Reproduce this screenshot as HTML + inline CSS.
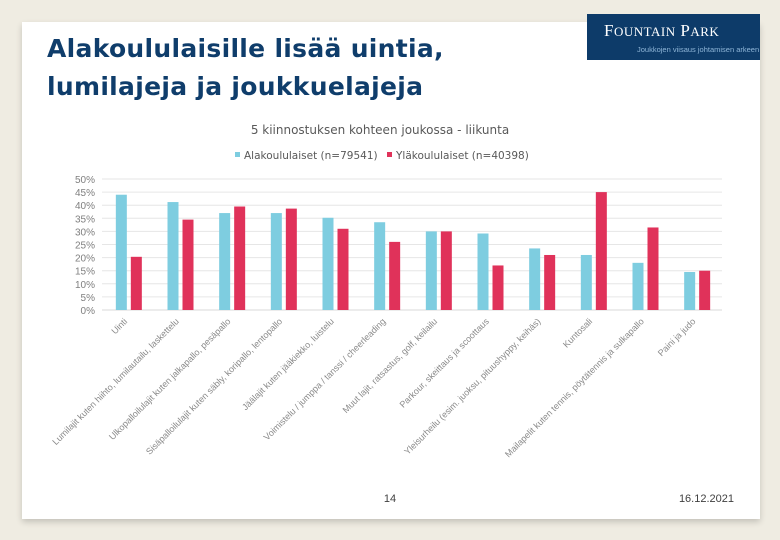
<!DOCTYPE html>
<html><head><meta charset="utf-8">
<style>
body{margin:0;width:780px;height:540px;background:#efece2;font-family:"Liberation Sans",sans-serif;overflow:hidden;position:relative}
#card{position:absolute;left:22px;top:22px;width:738px;height:497px;background:#fff;box-shadow:0 3px 6px rgba(0,0,0,0.18)}
#title{position:absolute;left:47px;top:30px;margin:0;color:#0f3d6b;font-family:"DejaVu Sans",sans-serif;font-weight:bold;font-size:25px;line-height:38px;letter-spacing:0.3px}
#logo{position:absolute;left:587px;top:14px;width:173px;height:46px;background:#0d3b69;color:#fff;white-space:nowrap}
#logo .n{position:absolute;left:17px;top:7px;font-family:"Liberation Serif",serif;font-size:17px;letter-spacing:0.5px}
#logo .s{position:absolute;left:50px;top:31px;font-size:7.5px;color:#8fb6d8}
svg{position:absolute;left:0;top:0}
</style></head><body>
<div id="card"></div>
<h1 id="title">Alakoululaisille lisää uintia,<br>lumilajeja ja joukkuelajeja</h1>
<div id="logo"><span class="n">F<span style="font-size:13px">OUNTAIN</span> P<span style="font-size:13px">ARK</span></span><span class="s">Joukkojen viisaus johtamisen arkeen</span></div>
<svg id="chart" width="780" height="540"></svg>
<script>
const categories=["Uinti","Lumilajit kuten hiihto, lumilautailu, laskettelu","Ulkopalloilulajit kuten jalkapallo, pesäpallo","Sisäpalloilulajit kuten säbly, koripallo, lentopallo","Jäälajit kuten jääkiekko, luistelu","Voimistelu / jumppa / tanssi / cheerleading","Muut lajit, ratsastus, golf, keilailu","Parkour, skeittaus ja scoottaus","Yleisurheilu (esim. juoksu, pituushyppy, keihäs)","Kuntosali","Mailapelit kuten tennis, pöytätennis ja sulkapallo","Paini ja judo"];
const alakoulu=[44,41.2,37,37,35.2,33.5,30,29.2,23.5,21,18,14.5];
const ylakoulu=[20.3,34.5,39.5,38.7,31,26,30,17,21,45,31.5,15];
const yTicks=[0,5,10,15,20,25,30,35,40,45,50];
const svg=document.getElementById('chart');
const NS='http://www.w3.org/2000/svg';
const x0=102,x1=722,yBase=310,yTop=179;
const yScale=v=>yBase-(v/50)*(yBase-yTop);
const bw=(x1-x0)/categories.length;
const xc=i=>x0+bw*(i+0.5);
function mk(t,a){const e=document.createElementNS(NS,t);for(const k in a)e.setAttribute(k,a[k]);svg.appendChild(e);return e;}
let e;
e=mk('text',{x:380,y:134,'text-anchor':'middle','font-size':12,fill:'#595959','font-family':'DejaVu Sans, sans-serif'});e.textContent='5 kiinnostuksen kohteen joukossa - liikunta';


e=mk('rect',{x:235,y:152,width:5,height:5,fill:'#7ecde0'});


e=mk('text',{x:244,y:159,'font-size':10.5,fill:'#595959','font-family':'DejaVu Sans, sans-serif'});e.textContent='Alakoululaiset (n=79541)';


e=mk('rect',{x:387,y:152,width:5,height:5,fill:'#e0325a'});


e=mk('text',{x:396,y:159,'font-size':10.5,fill:'#595959','font-family':'DejaVu Sans, sans-serif'});e.textContent='Yläkoululaiset (n=40398)';


yTicks.forEach(t=>{
 const y=yScale(t);
 e=mk('line',{x1:x0,x2:x1,y1:y,y2:y,stroke:t===0?'#d9d9d9':'#e6e6e6','stroke-width':1});
 
 
 e=mk('text',{x:95,y:y+4,'text-anchor':'end','font-size':10,fill:'#7f7f7f'});e.textContent=t+'%';
 
 
});
categories.forEach((c,i)=>{
 const cx=xc(i);
 e=mk('rect',{x:cx-12,y:yScale(alakoulu[i]),width:11,height:yBase-yScale(alakoulu[i]),fill:'#7ecde0'});
 
 
 e=mk('rect',{x:cx+3,y:yScale(ylakoulu[i]),width:11,height:yBase-yScale(ylakoulu[i]),fill:'#e0325a'});
 
 
 e=mk('text',{x:cx,y:yBase+12,'text-anchor':'end','font-size':9,fill:'#8a8a8a',transform:`rotate(-45 ${cx} ${yBase+12})`});e.textContent=c;
 
 
});
e=mk('text',{x:390,y:502,'text-anchor':'middle','font-size':11,fill:'#404040'});e.textContent='14';


e=mk('text',{x:734,y:502,'text-anchor':'end','font-size':11,fill:'#404040'});e.textContent='16.12.2021';


</script>
</body></html>
